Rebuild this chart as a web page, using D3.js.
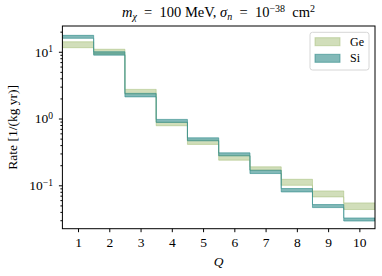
<!DOCTYPE html>
<html>
<head>
<meta charset="utf-8">
<script src="https://cdn.jsdelivr.net/npm/d3@7"></script>
<style>
  body { margin: 0; background: #fff; }
  svg text { font-family: 'Liberation Serif', 'DejaVu Serif', serif !important; }
  .axis path, .axis line { stroke: #000; }
  .axis text { font-size: 13.5px; fill: #000; }
</style>
</head>
<body>
<svg id="chart"></svg>
<script>
// Q bins and rate bands
const qBins = [1, 2, 3, 4, 5, 6, 7, 8, 9, 10];
const geLow = [11.5, 9.2, 2.32, 0.78, 0.41, 0.238, 0.168, 0.100, 0.067, 0.0434];
const geHigh = [14.1, 10.9, 2.73, 0.88, 0.474, 0.28, 0.189, 0.123, 0.0824, 0.0545];
const siLow = [15.9, 8.9, 2.11, 0.875, 0.464, 0.276, 0.150, 0.0796, 0.0464, 0.0292];
const siHigh = [17.6, 10.0, 2.38, 0.97, 0.514, 0.306, 0.168, 0.0895, 0.0515, 0.0324];
const yMajorTicks = [0.1, 1, 10];
const yMajorExp = ['−1', '0', '1'];

const FONT = "'Liberation Serif', 'DejaVu Serif', serif";

const config = {
  width: 382,
  height: 276,
  margin: { top: 26, right: 7, bottom: 47.3, left: 62.4 },
};
const innerW = config.width - config.margin.left - config.margin.right;
const innerH = config.height - config.margin.top - config.margin.bottom;

const svg = d3.select('#chart')
  .attr('width', config.width)
  .attr('height', config.height)
  .attr('font-family', FONT);

const chart = svg.append('g')
  .attr('transform', `translate(${config.margin.left},${config.margin.top})`);

// Scales
const xScale = d3.scaleLinear().domain([0.5, 10.5]).range([0, innerW]);
const yScale = d3.scaleLog().domain([0.0224, 24.3]).range([innerH, 0]);

// build step polygon: each bin spans q-0.5..q+0.5
function stepRows(lo, hi) {
  const rows = qBins.map((q, i) => ({ x: q - 0.5, lo: lo[i], hi: hi[i] }));
  const last = rows[rows.length - 1];
  rows.push({ x: last.x + 1, lo: last.lo, hi: last.hi });
  return rows;
}

const area = d3.area()
  .curve(d3.curveStepAfter)
  .x((d) => xScale(d.x))
  .y0((d) => yScale(d.lo))
  .y1((d) => yScale(d.hi));

const series = [
  { key: 'Ge', color: '#a3bd76', alpha: 0.5, rows: stepRows(geLow, geHigh) },
  { key: 'Si', color: '#2e8a88', alpha: 0.6, rows: stepRows(siLow, siHigh) },
];

svg.append('defs').append('clipPath').attr('id', 'plotclip')
  .append('rect').attr('width', innerW).attr('height', innerH);

chart.append('g').attr('clip-path', 'url(#plotclip)')
  .selectAll('path.band')
  .data(series)
  .join('path')
  .attr('class', 'band')
  .attr('d', (d) => area(d.rows))
  .attr('fill', (d) => d.color)
  .attr('fill-opacity', (d) => d.alpha)
  .attr('stroke', (d) => d.color)
  .attr('stroke-opacity', (d) => d.alpha)
  .attr('stroke-width', 1);

// Axes
const xAxis = d3.axisBottom(xScale)
  .tickValues(qBins)
  .tickFormat(d3.format('d'))
  .tickSize(3.5)
  .tickPadding(5)
  .tickSizeOuter(0);

const xAxisG = chart.append('g')
  .attr('class', 'axis x-axis')
  .attr('transform', `translate(0,${innerH})`)
  .call(xAxis)
  .attr('font-family', FONT);
xAxisG.select('.domain').remove();

// minor log ticks
const [yMin, yMax] = yScale.domain();
const minorTicks = [];
for (let e = -2; e <= 1; e += 1) {
  for (let m = 2; m <= 9; m += 1) {
    const v = m * 10 ** e;
    if (v > yMin && v < yMax) minorTicks.push(v);
  }
}

chart.append('g')
  .attr('class', 'axis y-minor')
  .call(d3.axisLeft(yScale).tickValues(minorTicks).tickFormat('').tickSize(2).tickSizeOuter(0))
  .select('.domain').remove();

const yAxisG = chart.append('g')
  .attr('class', 'axis y-axis')
  .call(d3.axisLeft(yScale).tickValues(yMajorTicks).tickSize(3.5).tickPadding(6).tickSizeOuter(0)
    .tickFormat(''))
  .attr('font-family', FONT);
yAxisG.select('.domain').remove();

yAxisG.selectAll('.tick').each(function (d, i) {
  const t = d3.select(this).append('text')
    .attr('x', -9.5)
    .attr('dy', '0.32em')
    .attr('text-anchor', 'end')
    .attr('fill', '#000');
  t.append('tspan').text('10');
  t.append('tspan').attr('dy', '-0.45em').style('font-size', '9.5px').text(yMajorExp[i]);
});

// frame
chart.append('rect')
  .attr('width', innerW)
  .attr('height', innerH)
  .attr('fill', 'none')
  .attr('stroke', '#000')
  .attr('stroke-width', 1);

// Title (math spacing widened around relations)
const title = svg.append('text')
  .attr('x', 218.5)
  .attr('y', 17.3)
  .attr('text-anchor', 'middle')
  .style('font-size', '14.5px');
title.append('tspan').style('font-style', 'italic').text('m');
title.append('tspan').style('font-style', 'italic').style('font-size', '10px').attr('dy', 2.5).text('χ');
title.append('tspan').attr('dy', -2.5).text('\u2002=\u2002100 MeV, ');
title.append('tspan').style('font-style', 'italic').text('σ');
title.append('tspan').style('font-style', 'italic').style('font-size', '10px').attr('dy', 2.5).text('n');
title.append('tspan').attr('dy', -2.5).text('\u2002=\u200210');
title.append('tspan').style('font-size', '10px').attr('dy', -5.5).text('−38');
title.append('tspan').attr('dy', 5.5).text('\u2002cm');
title.append('tspan').style('font-size', '10px').attr('dy', -5.5).text('2');

// Axis titles
svg.append('text')
  .attr('x', config.margin.left + innerW / 2)
  .attr('y', 266)
  .attr('text-anchor', 'middle')
  .style('font-size', '13.5px')
  .style('font-style', 'italic')
  .text('Q');

svg.append('text')
  .attr('transform', `translate(17,${config.margin.top + innerH / 2}) rotate(-90)`)
  .attr('text-anchor', 'middle')
  .style('font-size', '13.5px')
  .text('Rate [1/(kg yr)]');

// Legend
const legend = svg.append('g').attr('transform', 'translate(310,32.3)');
legend.append('rect')
  .attr('width', 59)
  .attr('height', 37.7)
  .attr('rx', 2.5)
  .attr('fill', '#fff')
  .attr('fill-opacity', 0.8)
  .attr('stroke', '#d6d6d6');
series.forEach((s, i) => {
  legend.append('rect')
    .attr('x', 5)
    .attr('y', 5.4 + i * 16.6)
    .attr('width', 25)
    .attr('height', 8)
    .attr('fill', s.color)
    .attr('fill-opacity', s.alpha)
    .attr('stroke', s.color)
    .attr('stroke-opacity', s.alpha);
  legend.append('text')
    .attr('x', 40)
    .attr('y', 13.5 + i * 16.6)
    .style('font-size', '12px')
    .text(s.key);
});
</script>
</body>
</html>
